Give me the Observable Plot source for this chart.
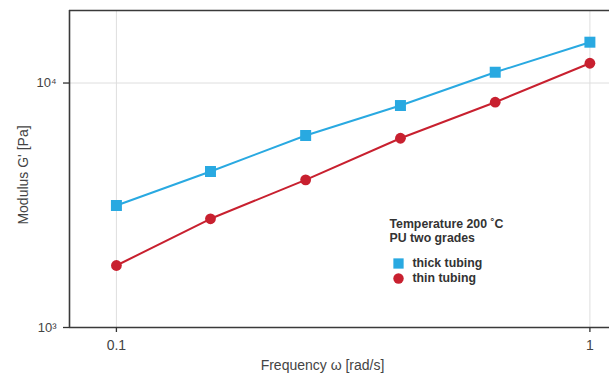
<!DOCTYPE html>
<html>
<head>
<meta charset="utf-8">
<script src="https://cdn.jsdelivr.net/npm/d3@7"></script>
<script src="https://cdn.jsdelivr.net/npm/@observablehq/plot@0.6"></script>
<style>
  html, body { margin: 0; padding: 0; background: #fff; overflow: hidden; }
</style>
</head>
<body>
<div id="chart"></div>
<script>
// Data
const frequency = [0.1, 0.158, 0.251, 0.398, 0.631, 1];        // rad/s
const thickTubing = [3155, 4346, 6100, 8090, 11070, 14690];    // Pa
const thinTubing  = [1793, 2784, 4018, 5944, 8347, 12050];     // Pa
const seriesNames = ["thick tubing", "thin tubing"];
const xTicks = [0.1, 1];
const xTickLabels = ["0.1", "1"];
const yTicks = [1000, 10000];
const yTickLabels = ["10³", "10⁴"];
const xDomain = [0.0796, 1.1];
const yDomain = [1000, 19800];
const legendTitle = ["Temperature 200 ˚C", "PU two grades"];
const xLabel = "Frequency ω [rad/s]";
const yLabel = "Modulus G' [Pa]";

const blue = "#29a9e1";
const red = "#c8202f";

const data = [
  ...frequency.map((f, i) => ({f, g: thickTubing[i], s: seriesNames[0]})),
  ...frequency.map((f, i) => ({f, g: thinTubing[i], s: seriesNames[1]}))
];
const thick = data.filter(d => d.s === seriesNames[0]);
const thin = data.filter(d => d.s === seriesNames[1]);

const xLabelOf = new Map(xTicks.map((t, i) => [t, xTickLabels[i]]));
const yLabelOf = new Map(yTicks.map((t, i) => [t, yTickLabels[i]]));

const legendFont = "'Liberation Sans', Arial, sans-serif";
const legendText = {frameAnchor: "top-left", textAnchor: "start", lineAnchor: "middle", fontSize: 12.3, fontWeight: "bold", fill: "#333", fontFamily: legendFont};

const chart = Plot.plot({
  width: 609,
  height: 374,
  marginLeft: 69,
  marginRight: 0,
  marginTop: 10,
  marginBottom: 47,
  style: {fontFamily: "'Liberation Sans', Arial, sans-serif", fontSize: "13px", color: "#444", background: "white"},
  x: {type: "log", domain: xDomain},
  y: {type: "log", domain: yDomain},
  marks: [
    Plot.gridX(xTicks, {stroke: "#dedede", strokeOpacity: 1, strokeWidth: 1}),
    Plot.gridY([yTicks[1]], {stroke: "#dedede", strokeOpacity: 1, strokeWidth: 1}),
    Plot.ruleY(yDomain, {stroke: "#3a3a3a", strokeWidth: 1.6}),
    Plot.ruleX([xDomain[0]], {stroke: "#3a3a3a", strokeWidth: 1.6}),
    Plot.axisX(xTicks, {tickSize: 5, tickPadding: 8, tickFormat: d => xLabelOf.get(d), label: null, fontSize: 14, color: "#444", stroke: "#333", strokeWidth: 1.3}),
    Plot.axisY(yTicks, {tickSize: 6, tickPadding: 7, tickFormat: d => yLabelOf.get(d), label: null, fontSize: 13, color: "#444", stroke: "#333", strokeWidth: 1.3}),
    Plot.line(thick, {x: "f", y: "g", stroke: blue, strokeWidth: 2}),
    Plot.line(thin, {x: "f", y: "g", stroke: red, strokeWidth: 2}),
    Plot.dot(thick, {x: "f", y: "g", symbol: "square", fill: blue, r: 6.2}),
    Plot.dot(thin, {x: "f", y: "g", symbol: "circle", fill: red, r: 5.4}),
    // axis titles
    Plot.text([xLabel], {text: d => d, frameAnchor: "bottom", dx: -17, dy: 38, fontSize: 14, fill: "#444", textAnchor: "middle", lineAnchor: "middle"}),
    Plot.text([yLabel], {text: d => d, frameAnchor: "left", rotate: -90, dx: -46, dy: 6, fontSize: 14, fill: "#444", textAnchor: "middle", lineAnchor: "middle"}),
    // legend
    Plot.text([legendTitle[0]], {...legendText, text: d => d, dx: 320, dy: 214}),
    Plot.text([legendTitle[1]], {...legendText, text: d => d, dx: 320, dy: 228}),
    Plot.dot([seriesNames[0]], {frameAnchor: "top-left", dx: 329, dy: 253, symbol: "square", fill: blue, r: 5.8}),
    Plot.dot([seriesNames[1]], {frameAnchor: "top-left", dx: 329, dy: 268, symbol: "circle", fill: red, r: 5.2}),
    Plot.text([seriesNames[0]], {...legendText, text: d => d, dx: 343, dy: 253}),
    Plot.text([seriesNames[1]], {...legendText, text: d => d, dx: 343, dy: 268})
  ]
});
document.getElementById("chart").appendChild(chart);
</script>
</body>
</html>
